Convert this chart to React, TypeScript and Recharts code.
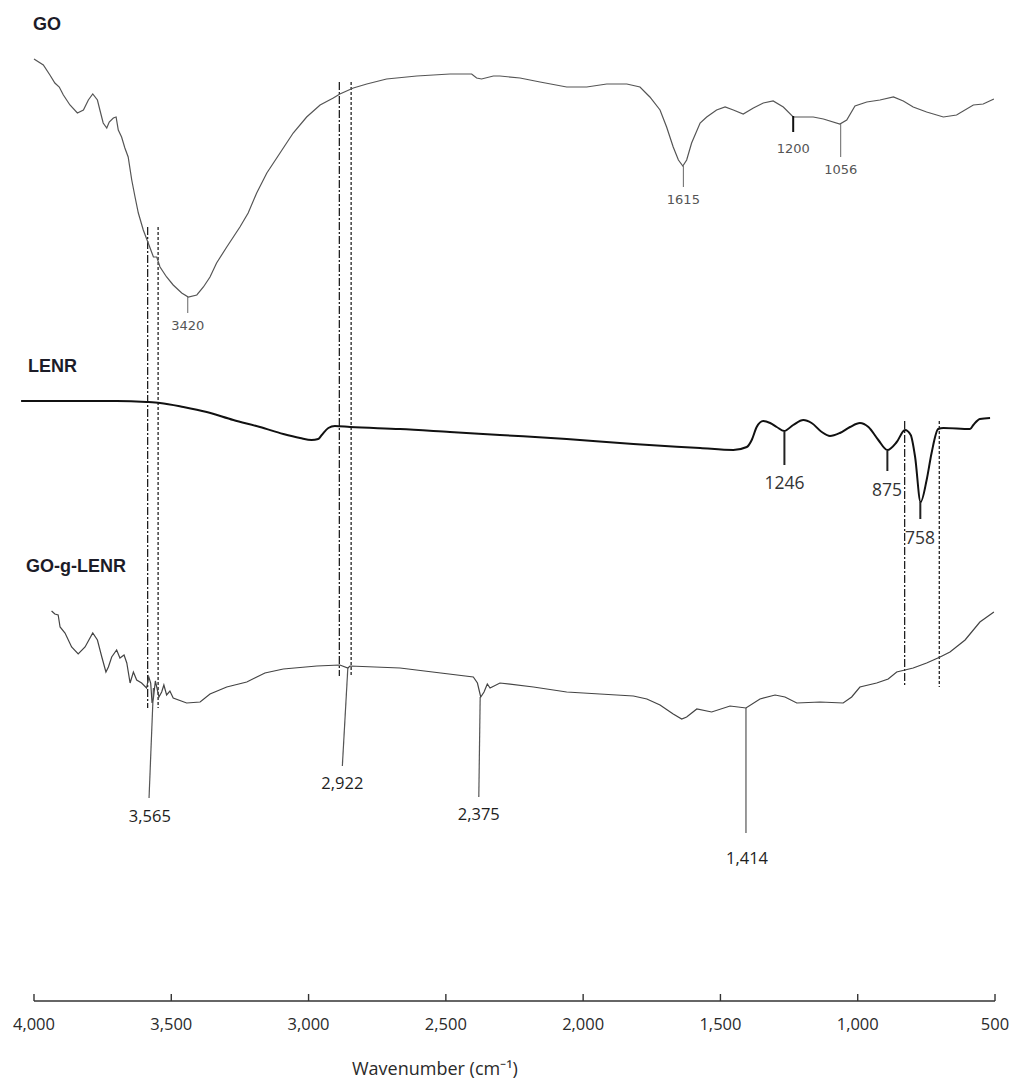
import React from 'react';
import { LineChart, Line, XAxis, YAxis, ReferenceLine, ReferenceDot } from 'recharts';

// Wavenumber (cm-1) / relative transmittance (arbitrary offset units)
const goData = [
  [4000, 94.2], [3966, 93.6], [3942, 92.6], [3924, 91.8], [3908, 91.4], [3893, 90.6], [3869, 89.6],
  [3842, 88.8], [3820, 89.1], [3802, 90.1], [3786, 90.7], [3769, 90.1], [3760, 89.1], [3748, 87.8],
  [3735, 87.3], [3726, 87.9], [3711, 88.3], [3701, 88.4], [3693, 87.1], [3681, 86.4], [3669, 85.3],
  [3657, 84.4], [3644, 82.1], [3632, 80.4], [3620, 78.8], [3602, 77.1], [3584, 75.8], [3565, 74.4],
  [3553, 74.4], [3541, 73.4], [3517, 72.4], [3493, 71.6], [3462, 70.8], [3438, 70.4], [3407, 70.6],
  [3383, 71.4], [3359, 72.4], [3335, 73.8], [3298, 75.4], [3250, 77.4], [3220, 78.8], [3189, 80.8],
  [3152, 82.8], [3104, 84.8], [3056, 86.8], [3007, 88.4], [2958, 89.6], [2910, 90.3], [2886, 90.7],
  [2837, 91.3], [2788, 91.7], [2716, 92.2], [2606, 92.5], [2485, 92.7], [2406, 92.7], [2388, 92.3],
  [2370, 92.2], [2327, 92.5], [2303, 92.5], [2230, 92.3], [2157, 91.9], [2060, 91.4], [1987, 91.4],
  [1914, 91.7], [1841, 91.7], [1793, 91.4], [1757, 90.4], [1720, 89.1], [1696, 87.4], [1672, 85.4],
  [1653, 84.1], [1637, 83.5], [1623, 84.1], [1605, 85.8], [1574, 87.8], [1550, 88.4], [1514, 89.1],
  [1483, 89.4], [1453, 89.1], [1417, 88.7], [1380, 89.3], [1344, 89.8], [1308, 90.0], [1271, 89.4],
  [1235, 88.4], [1162, 88.4], [1125, 88.2], [1065, 87.7], [1040, 88.1], [1010, 89.5], [967, 89.9],
  [919, 90.1], [870, 90.4], [834, 90.0], [798, 89.4], [749, 88.9], [688, 88.4], [640, 88.6],
  [579, 89.6], [543, 89.7], [504, 90.2],
].map(([w, t]) => ({ w, t }));

const lenrData = [
  [4047, 60.0], [3881, 60.0], [3699, 60.0], [3590, 59.9], [3541, 59.8], [3456, 59.4], [3371, 58.9],
  [3274, 58.1], [3177, 57.4], [3092, 56.7], [3031, 56.3], [2989, 56.1], [2965, 56.2], [2952, 56.6],
  [2928, 57.3], [2904, 57.5], [2849, 57.4], [2667, 57.2], [2485, 56.9], [2303, 56.6], [2060, 56.2],
  [1817, 55.7], [1574, 55.3], [1453, 55.1], [1404, 55.4], [1386, 56.1], [1368, 57.4], [1344, 58.0],
  [1319, 57.8], [1295, 57.4], [1268, 57.0], [1235, 57.6], [1198, 58.1], [1168, 57.8], [1131, 56.9],
  [1101, 56.5], [1065, 56.8], [1028, 57.4], [992, 57.8], [961, 57.4], [925, 56.1], [892, 55.1],
  [858, 55.9], [828, 57.1], [807, 56.6], [791, 54.4], [771, 49.9], [749, 52.1], [731, 54.8],
  [707, 57.2], [688, 57.3], [591, 57.2], [579, 57.6], [555, 58.2], [518, 58.3],
].map(([w, t]) => ({ w, t }));

const gogData = [
  [3936, 39.0], [3924, 38.7], [3912, 38.6], [3905, 37.4], [3887, 36.8], [3863, 35.4], [3839, 34.7],
  [3814, 35.4], [3786, 36.8], [3769, 36.1], [3753, 34.4], [3738, 32.9], [3729, 33.4], [3717, 34.4],
  [3699, 35.1], [3687, 34.3], [3672, 34.6], [3662, 33.8], [3650, 31.8], [3638, 32.9], [3626, 32.1],
  [3608, 31.8], [3590, 31.3], [3582, 32.4], [3575, 31.8], [3570, 29.8], [3565, 30.3], [3558, 32.0],
  [3553, 31.4], [3545, 30.4], [3535, 30.9], [3527, 31.6], [3517, 30.6], [3505, 31.0],
  [3493, 30.3], [3444, 29.8], [3395, 29.9], [3359, 30.7], [3298, 31.4], [3225, 31.9], [3159, 32.8],
  [3092, 33.2], [2970, 33.5], [2886, 33.6], [2857, 33.3], [2849, 33.5], [2667, 33.3], [2400, 32.4],
  [2385, 31.8], [2373, 30.4], [2361, 30.9], [2349, 31.7], [2339, 31.3], [2303, 31.8], [2181, 31.4],
  [2060, 30.9], [1939, 30.7], [1817, 30.5], [1768, 30.2], [1720, 29.6], [1672, 28.7], [1641, 28.2],
  [1623, 28.4], [1586, 29.2], [1532, 28.9], [1465, 29.5], [1407, 29.3], [1356, 30.2], [1301, 30.6],
  [1265, 30.4], [1222, 29.8], [1137, 29.9], [1053, 29.8], [1022, 30.4], [992, 31.4], [931, 31.8],
  [889, 32.2], [858, 32.9], [798, 33.3], [749, 33.8], [700, 34.4], [664, 34.9], [609, 36.1],
  [555, 37.9], [504, 38.9],
].map(([w, t]) => ({ w, t }));

const xTicks = [4000, 3500, 3000, 2500, 2000, 1500, 1000, 500];

// peak annotations: [x top, y top, x bottom, y bottom, label x, label y, text]
const goPeaks = [
  [3440, 70.4, 3440, 68.8, 3440, 67.6, '3420'],
  [1635, 83.5, 1635, 81.4, 1635, 80.2, '1615'],
  [1235, 88.5, 1235, 86.9, 1235, 85.3, '1200'],
  [1062, 87.7, 1062, 84.4, 1062, 83.2, '1056'],
];
const lenrPeaks = [
  [1267, 56.9, 1267, 53.6, 1267, 51.9, '1246'],
  [892, 55.0, 892, 53.0, 893, 51.2, '875'],
  [772, 49.9, 772, 48.2, 773, 46.4, '758'],
];
const gogPeaks = [
  [3565, 31.3, 3581, 20.3, 3578, 18.6, '3,565'],
  [2857, 33.3, 2877, 23.5, 2877, 21.9, '2,922'],
  [2375, 30.4, 2380, 20.4, 2380, 18.8, '2,375'],
  [1407, 29.3, 1407, 16.8, 1403, 14.4, '1,414'],
];

// guide lines: [wavenumber, y top, y bottom, style]
const guides = [
  [3586, 77.4, 29.3, 'dashdot'], [3548, 77.4, 29.3, 'dash'],
  [2888, 91.9, 32.5, 'dashdot'], [2845, 91.9, 32.5, 'dash'],
  [829, 58.0, 31.4, 'dashdot'], [703, 58.0, 31.4, 'dash'],
];

const seriesLabels = [
  [4004, 97.1, 'GO'],
  [4022, 62.9, 'LENR'],
  [4029, 42.9, 'GO-g-LENR'],
];

const makeText = (txt: string, style: any) => (p: any) => (
  <text x={p.cx} y={p.cy} {...style}>{txt}</text>
);

export default function App() {
  return (
    <div style={{ width: 1011, height: 1079 }}>
      <style>{'html,body{margin:0;padding:0;overflow:hidden}.recharts-surface{overflow:visible}'}</style>
      <LineChart width={1011} height={1079} margin={{ top: 8, right: 10.5, left: 13.4, bottom: 48 }}>
        <XAxis
          dataKey="w"
          type="number"
          domain={[480, 4075]}
          reversed
          allowDataOverflow
          ticks={xTicks}
          axisLine={false}
          tickLine={false}
          tickSize={8}
          tickMargin={9}
          height={30}
          interval={0}
          tickFormatter={(v: number) => v.toLocaleString('en-US')}
          tick={{ fill: '#2a2a2a', fontSize: 16.5, fontFamily: 'Open Sans' }}
        />
        <YAxis hide type="number" domain={[0, 99.3]} allowDataOverflow />

        {/* axis line and ticks */}
        <ReferenceLine segment={[{ x: 4000, y: 0 }, { x: 500, y: 0 }]} stroke="#333" strokeWidth={1.6} ifOverflow="visible" />
        {xTicks.map((t) => (
          <ReferenceLine key={'tk' + t} segment={[{ x: t, y: 0 }, { x: t, y: 0.7 }]} stroke="#333" strokeWidth={1.4} ifOverflow="visible" />
        ))}

        {guides.map(([w, y1, y2, s], i) => (
          <ReferenceLine
            key={'g' + i}
            segment={[{ x: w as number, y: y1 as number }, { x: w as number, y: y2 as number }]}
            stroke="#111"
            strokeWidth={1.2}
            strokeDasharray={s === 'dash' ? '3 2' : '8 2 2 2'}
            ifOverflow="visible"
          />
        ))}

        <Line data={goData} dataKey="t" type="linear" stroke="#555" strokeWidth={1.2} dot={false} isAnimationActive={false} />
        <Line data={lenrData} dataKey="t" type="monotone" stroke="#111" strokeWidth={2} dot={false} isAnimationActive={false} />
        <Line data={gogData} dataKey="t" type="linear" stroke="#444" strokeWidth={1.2} dot={false} isAnimationActive={false} />

        {goPeaks.map((p, i) => (
          <ReferenceLine key={'gp' + i} segment={[{ x: p[0] as number, y: p[1] as number }, { x: p[2] as number, y: p[3] as number }]}
            stroke={p[6] === '1200' ? '#111' : '#666'} strokeWidth={p[6] === '1200' ? 2 : 1} ifOverflow="visible" />
        ))}
        {goPeaks.map((p, i) => (
          <ReferenceDot key={'gpl' + i} x={p[4] as number} y={p[5] as number} r={0} ifOverflow="visible"
            shape={makeText(p[6] as string, { textAnchor: 'middle', dominantBaseline: 'central', fill: '#555', fontSize: 13, fontFamily: 'DejaVu Sans' })} />
        ))}

        {lenrPeaks.map((p, i) => (
          <ReferenceLine key={'lp' + i} segment={[{ x: p[0] as number, y: p[1] as number }, { x: p[2] as number, y: p[3] as number }]}
            stroke="#222" strokeWidth={2} ifOverflow="visible" />
        ))}
        {lenrPeaks.map((p, i) => (
          <ReferenceDot key={'lpl' + i} x={p[4] as number} y={p[5] as number} r={0} ifOverflow="visible"
            shape={makeText(p[6] as string, { textAnchor: 'middle', dominantBaseline: 'central', fill: '#333', fontSize: 17.5, fontFamily: 'Open Sans' })} />
        ))}

        {gogPeaks.map((p, i) => (
          <ReferenceLine key={'cp' + i} segment={[{ x: p[0] as number, y: p[1] as number }, { x: p[2] as number, y: p[3] as number }]}
            stroke="#555" strokeWidth={1.2} ifOverflow="visible" />
        ))}
        {gogPeaks.map((p, i) => (
          <ReferenceDot key={'cpl' + i} x={p[4] as number} y={p[5] as number} r={0} ifOverflow="visible"
            shape={makeText(p[6] as string, { textAnchor: 'middle', dominantBaseline: 'central', fill: '#1e1e1e', fontSize: 16.5, fontFamily: 'Open Sans' })} />
        ))}

        {seriesLabels.map((s, i) => (
          <ReferenceDot key={'sl' + i} x={s[0] as number} y={s[1] as number} r={0} ifOverflow="visible"
            shape={makeText(s[2] as string, { textAnchor: 'start', fill: '#1c1c28', fontSize: 18, fontWeight: 'bold', fontFamily: 'Liberation Sans' })} />
        ))}

        <ReferenceDot x={2540} y={-6.7} r={0} ifOverflow="visible"
          shape={makeText('Wavenumber (cm⁻¹)', { textAnchor: 'middle', dominantBaseline: 'central', fill: '#2a2a2a', fontSize: 18, fontFamily: 'Open Sans' })} />
      </LineChart>
    </div>
  );
}
